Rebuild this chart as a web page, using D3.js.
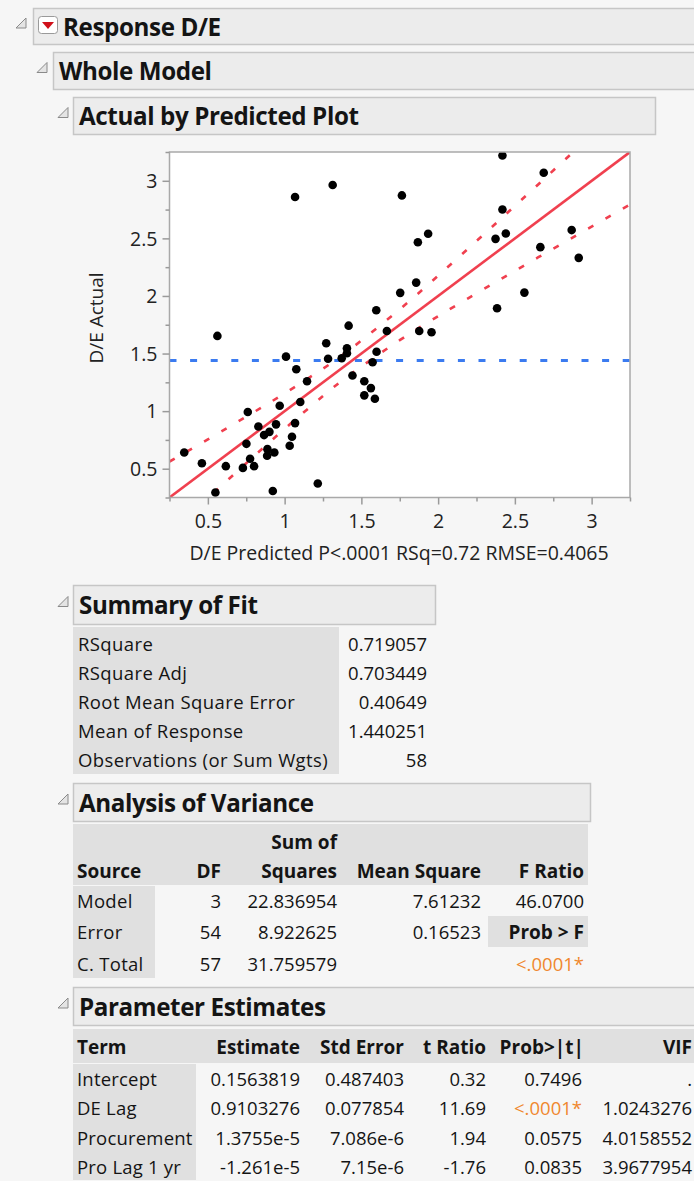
<!DOCTYPE html>
<html><head><meta charset="utf-8">
<script src="https://cdn.jsdelivr.net/npm/d3@7"></script>
<style>
body{margin:0;background:#f6f6f6;}
svg{display:block;font-family:"Open Sans","Noto Sans",sans-serif;}
</style>
</head><body>
<svg id="c" width="694" height="1181"></svg>
<script>
// ---------- data ----------
const predicted = [1.068,1.313,1.764,2.419,2.688,2.419,1.935,1.868,2.374,2.441,2.870,2.666,2.916,1.857,1.753,2.562,2.384,1.597,1.666,1.877,1.957,1.417,0.562,
  1.271,1.406,1.406,1.372,1.283,1.009,1.599,1.573,1.076,1.442,1.146,1.519,1.562,1.519,1.588,1.102,0.968,0.760,
  0.829,0.901,0.944,0.866,1.068,1.048,1.033,0.751,0.888,0.933,0.886,0.775,0.801,0.728,0.617,0.461,0.346,0.549,0.923,1.216];
const actual = [2.859,2.963,2.873,3.220,3.070,2.751,2.540,2.467,2.496,2.542,2.572,2.424,2.331,2.116,2.027,2.029,1.893,1.876,1.696,1.696,1.685,1.742,1.653,
  1.589,1.546,1.502,1.459,1.455,1.473,1.516,1.424,1.363,1.309,1.259,1.259,1.200,1.137,1.107,1.079,1.047,0.992,
  0.867,0.820,0.885,0.792,0.896,0.777,0.699,0.716,0.670,0.641,0.612,0.586,0.522,0.507,0.522,0.548,0.641,0.293,0.307,0.372];
const xTicks = [0.5,1,1.5,2,2.5,3];
const yTicks = [0.5,1,1.5,2,2.5,3];
const minorTicks = [0.25,0.75,1.25,1.75,2.25,2.75,3.25];
const meanResponse = 1.440251;
// confidence curve half-widths
const bandX    = [0.25,0.5,0.75,1.0,1.25,1.44,1.75,2.0,2.25,2.5,2.75,3.0,3.25];
const bandHalf = [0.312,0.255,0.202,0.154,0.119,0.110,0.134,0.176,0.227,0.282,0.339,0.398,0.457];
const xTitle = "D/E Predicted P<.0001 RSq=0.72 RMSE=0.4065";
const yTitle = "D/E Actual";

const fitLabels = ["RSquare","RSquare Adj","Root Mean Square Error","Mean of Response","Observations (or Sum Wgts)"];
const fitValues = ["0.719057","0.703449","0.40649","1.440251","58"];

const anovaSource = ["Model","Error","C. Total"];
const anovaDF = ["3","54","57"];
const anovaSS = ["22.836954","8.922625","31.759579"];
const anovaMS = ["7.61232","0.16523",""];
const anovaF = ["46.0700","Prob > F","<.0001*"];

const peTerms = ["Intercept","DE Lag","Procurement","Pro Lag 1 yr"];
const peEstimate = ["0.1563819","0.9103276","1.3755e-5","-1.261e-5"];
const peStdErr = ["0.487403","0.077854","7.086e-6","7.15e-6"];
const peT = ["0.32","11.69","1.94","-1.76"];
const peP = ["0.7496","<.0001*","0.0575","0.0835"];
const peVIF = [".","1.0243276","4.0158552","3.9677954"];

// ---------- drawing ----------
const svg = d3.select("#c");
const BOX_FILL="#ececec", BOX_STROKE="#c6c6c6", CELL="#e0e0e0", TXT="#141414", ORANGE="#f0882e";
const FS=18.5, FSB=19, FSH=24.2, FSA=19.5;

function tri(x,y){ // disclosure triangle
  svg.append("path").attr("d",`M${x},${y+10}L${x+10},${y+10}L${x+10},${y}Z`)
    .attr("fill","#e4e4e4").attr("stroke","#8a8a8a").attr("stroke-width",1);
}
function header(x,y,w,h,label,triX){
  svg.append("rect").attr("x",x+0.5).attr("y",y+0.5).attr("width",w).attr("height",h)
    .attr("fill",BOX_FILL).attr("stroke",BOX_STROKE).attr("stroke-width",1.5);
  tri(triX,y+h/2-8);
  return svg.append("text").attr("x",x+6).attr("y",y+h/2).attr("dominant-baseline","central")
    .attr("font-size",FSH).attr("font-weight","bold").attr("fill",TXT).attr("letter-spacing",-0.4).text(label);
}

header(33,8,700,36,"",16).attr("x",63).text("Response D/E");
// red dropdown icon
svg.append("rect").attr("x",38.5).attr("y",16.5).attr("width",19).attr("height",17).attr("rx",3)
  .attr("fill","#fff").attr("stroke","#9a9a9a");
svg.append("path").attr("d","M42,22L54,22L48,29Z").attr("fill","#d0101a");
header(53,52,700,37,"Whole Model",37);
header(73,97,582,37,"Actual by Predicted Plot",58);

// plot
const L=169.5,R=630,T=152,B=497.5;
const x = d3.scaleLinear().domain([0.25,3.25]).range([L,R]);
const y = d3.scaleLinear().domain([0.25,3.25]).range([B,T]);
svg.append("rect").attr("x",L).attr("y",T).attr("width",R-L).attr("height",B-T).attr("fill","#fff");
svg.append("defs").append("clipPath").attr("id","clip").append("rect")
  .attr("x",L).attr("y",T).attr("width",R-L).attr("height",B-T);
const g = svg.append("g").attr("clip-path","url(#clip)");

// mean line
g.append("line").attr("x1",L).attr("x2",R).attr("y1",y(meanResponse)).attr("y2",y(meanResponse))
  .attr("stroke","#3b7bf0").attr("stroke-width",3).attr("stroke-dasharray","7,13.6");
// confidence curves
const upper = bandX.map((v,i)=>[v, v+bandHalf[i]]);
const lower = bandX.map((v,i)=>[v, v-bandHalf[i]]);
const ln = d3.line().x(d=>x(d[0])).y(d=>y(d[1])).curve(d3.curveNatural);
[upper,lower].forEach(b=>g.append("path").attr("d",ln(b)).attr("fill","none")
  .attr("stroke","#f0404f").attr("stroke-width",2.6).attr("stroke-dasharray","6,14"));
// fit line
g.append("line").attr("x1",x(0.25)).attr("y1",y(0.25)).attr("x2",x(3.25)).attr("y2",y(3.25))
  .attr("stroke","#f0404f").attr("stroke-width",2.6);
// points
g.selectAll("circle.pt").data(predicted).join("circle").attr("class","pt")
  .attr("cx",d=>x(d)).attr("cy",(d,i)=>y(actual[i])).attr("r",4.3).attr("fill","#000");

// frame
svg.append("rect").attr("x",L).attr("y",T).attr("width",R-L).attr("height",B-T)
  .attr("fill","none").attr("stroke","#a9a9a9").attr("stroke-width",1.5);

// axes
const ax = svg.append("g").attr("transform",`translate(0,${B})`)
  .call(d3.axisBottom(x).tickValues(xTicks).tickSize(7).tickFormat(d3.format("")));
const axm = svg.append("g").attr("transform",`translate(0,${B})`)
  .call(d3.axisBottom(x).tickValues(minorTicks).tickSize(4).tickFormat(""));
const ay = svg.append("g").attr("transform",`translate(${L},0)`)
  .call(d3.axisLeft(y).tickValues(yTicks).tickSize(7).tickFormat(d3.format("")));
const aym = svg.append("g").attr("transform",`translate(${L},0)`)
  .call(d3.axisLeft(y).tickValues(minorTicks).tickSize(4).tickFormat(""));
[ax,axm,ay,aym].forEach(a=>{
  a.select(".domain").remove();
  a.selectAll(".tick line").attr("stroke","#9a9a9a").attr("stroke-width",1.5);
  a.selectAll("text").attr("font-size",FSA).attr("fill","#222").attr("font-family",'"Open Sans",sans-serif');
});
ax.selectAll("text").attr("dy",null).attr("y",14).attr("dominant-baseline","hanging");
ay.selectAll("text").attr("x",-12).attr("dy","0.35em");

svg.append("text").attr("x",399).attr("y",552).attr("text-anchor","middle").attr("dominant-baseline","central")
  .attr("font-size",FSA).attr("fill","#222").text(xTitle);
svg.append("text").attr("transform","translate(96,318) rotate(-90)").attr("text-anchor","middle")
  .attr("dominant-baseline","central").attr("font-size",FSA-0.5).attr("fill","#222").text(yTitle);

// ---------- Summary of Fit ----------
header(73,585,362,39,"Summary of Fit",58);
svg.append("rect").attr("x",73).attr("y",627).attr("width",266).attr("height",147).attr("fill",CELL);
function t(xp,yp,s,anchor,bold,col,ls){
  return svg.append("text").attr("x",xp).attr("y",yp).attr("text-anchor",anchor||"start")
    .attr("dominant-baseline","central").attr("font-size",bold?FSB:FS).attr("font-weight",bold?"bold":"normal")
    .attr("letter-spacing",ls||0).attr("fill",col||TXT).text(s);
}
fitLabels.forEach((s,i)=>{
  const cy=643+i*29.2;
  t(78,cy,s,"start",false,TXT,0.4);
  t(427,cy,fitValues[i],"end");
});

// ---------- Analysis of Variance ----------
header(73,783,517,38,"Analysis of Variance",58);
svg.append("rect").attr("x",73).attr("y",824).attr("width",515).attr("height",61).attr("fill",CELL);
svg.append("rect").attr("x",73).attr("y",886).attr("width",82).attr("height",92).attr("fill",CELL);
svg.append("rect").attr("x",488).attr("y",916).attr("width",100).attr("height",31).attr("fill",CELL);
const aCols=[221,337,481,584];
t(337,842,"Sum of","end",true);
t(77,871,"Source","start",true);
t(aCols[0],871,"DF","end",true);
t(aCols[1],871,"Squares","end",true);
t(aCols[2],871,"Mean Square","end",true);
t(aCols[3],871,"F Ratio","end",true);
anovaSource.forEach((s,i)=>{
  const cy=900+i*31.5;
  t(77,cy,s,"start",false,TXT,0.3);
  t(aCols[0],cy,anovaDF[i],"end");
  t(aCols[1],cy,anovaSS[i],"end");
  t(aCols[2],cy,anovaMS[i],"end");
  t(aCols[3],cy,anovaF[i],"end",i===1,i===2?ORANGE:TXT);
});

// ---------- Parameter Estimates ----------
header(73,987,700,38,"Parameter Estimates",58);
svg.append("rect").attr("x",73).attr("y",1029).attr("width",621).attr("height",34).attr("fill",CELL);
svg.append("rect").attr("x",73).attr("y",1064).attr("width",123).attr("height",116).attr("fill",CELL);
const pCols=[300,404,486,584,692];
const pHead=["Estimate","Std Error","t Ratio","Prob>|t|","VIF"];
t(77,1047,"Term","start",true);
pHead.forEach((h,i)=>t(pCols[i],1047,h,"end",true));
peTerms.forEach((s,i)=>{
  const cy=1078+i*29.5;
  t(77,cy,s,"start",false,TXT,0.2);
  t(pCols[0],cy,peEstimate[i],"end");
  t(pCols[1],cy,peStdErr[i],"end");
  t(pCols[2],cy,peT[i],"end");
  t(pCols[3]-2,cy,peP[i],"end",false,peP[i].startsWith("<")?ORANGE:TXT);
  t(pCols[4],cy,peVIF[i],"end");
});
</script>
</body></html>
